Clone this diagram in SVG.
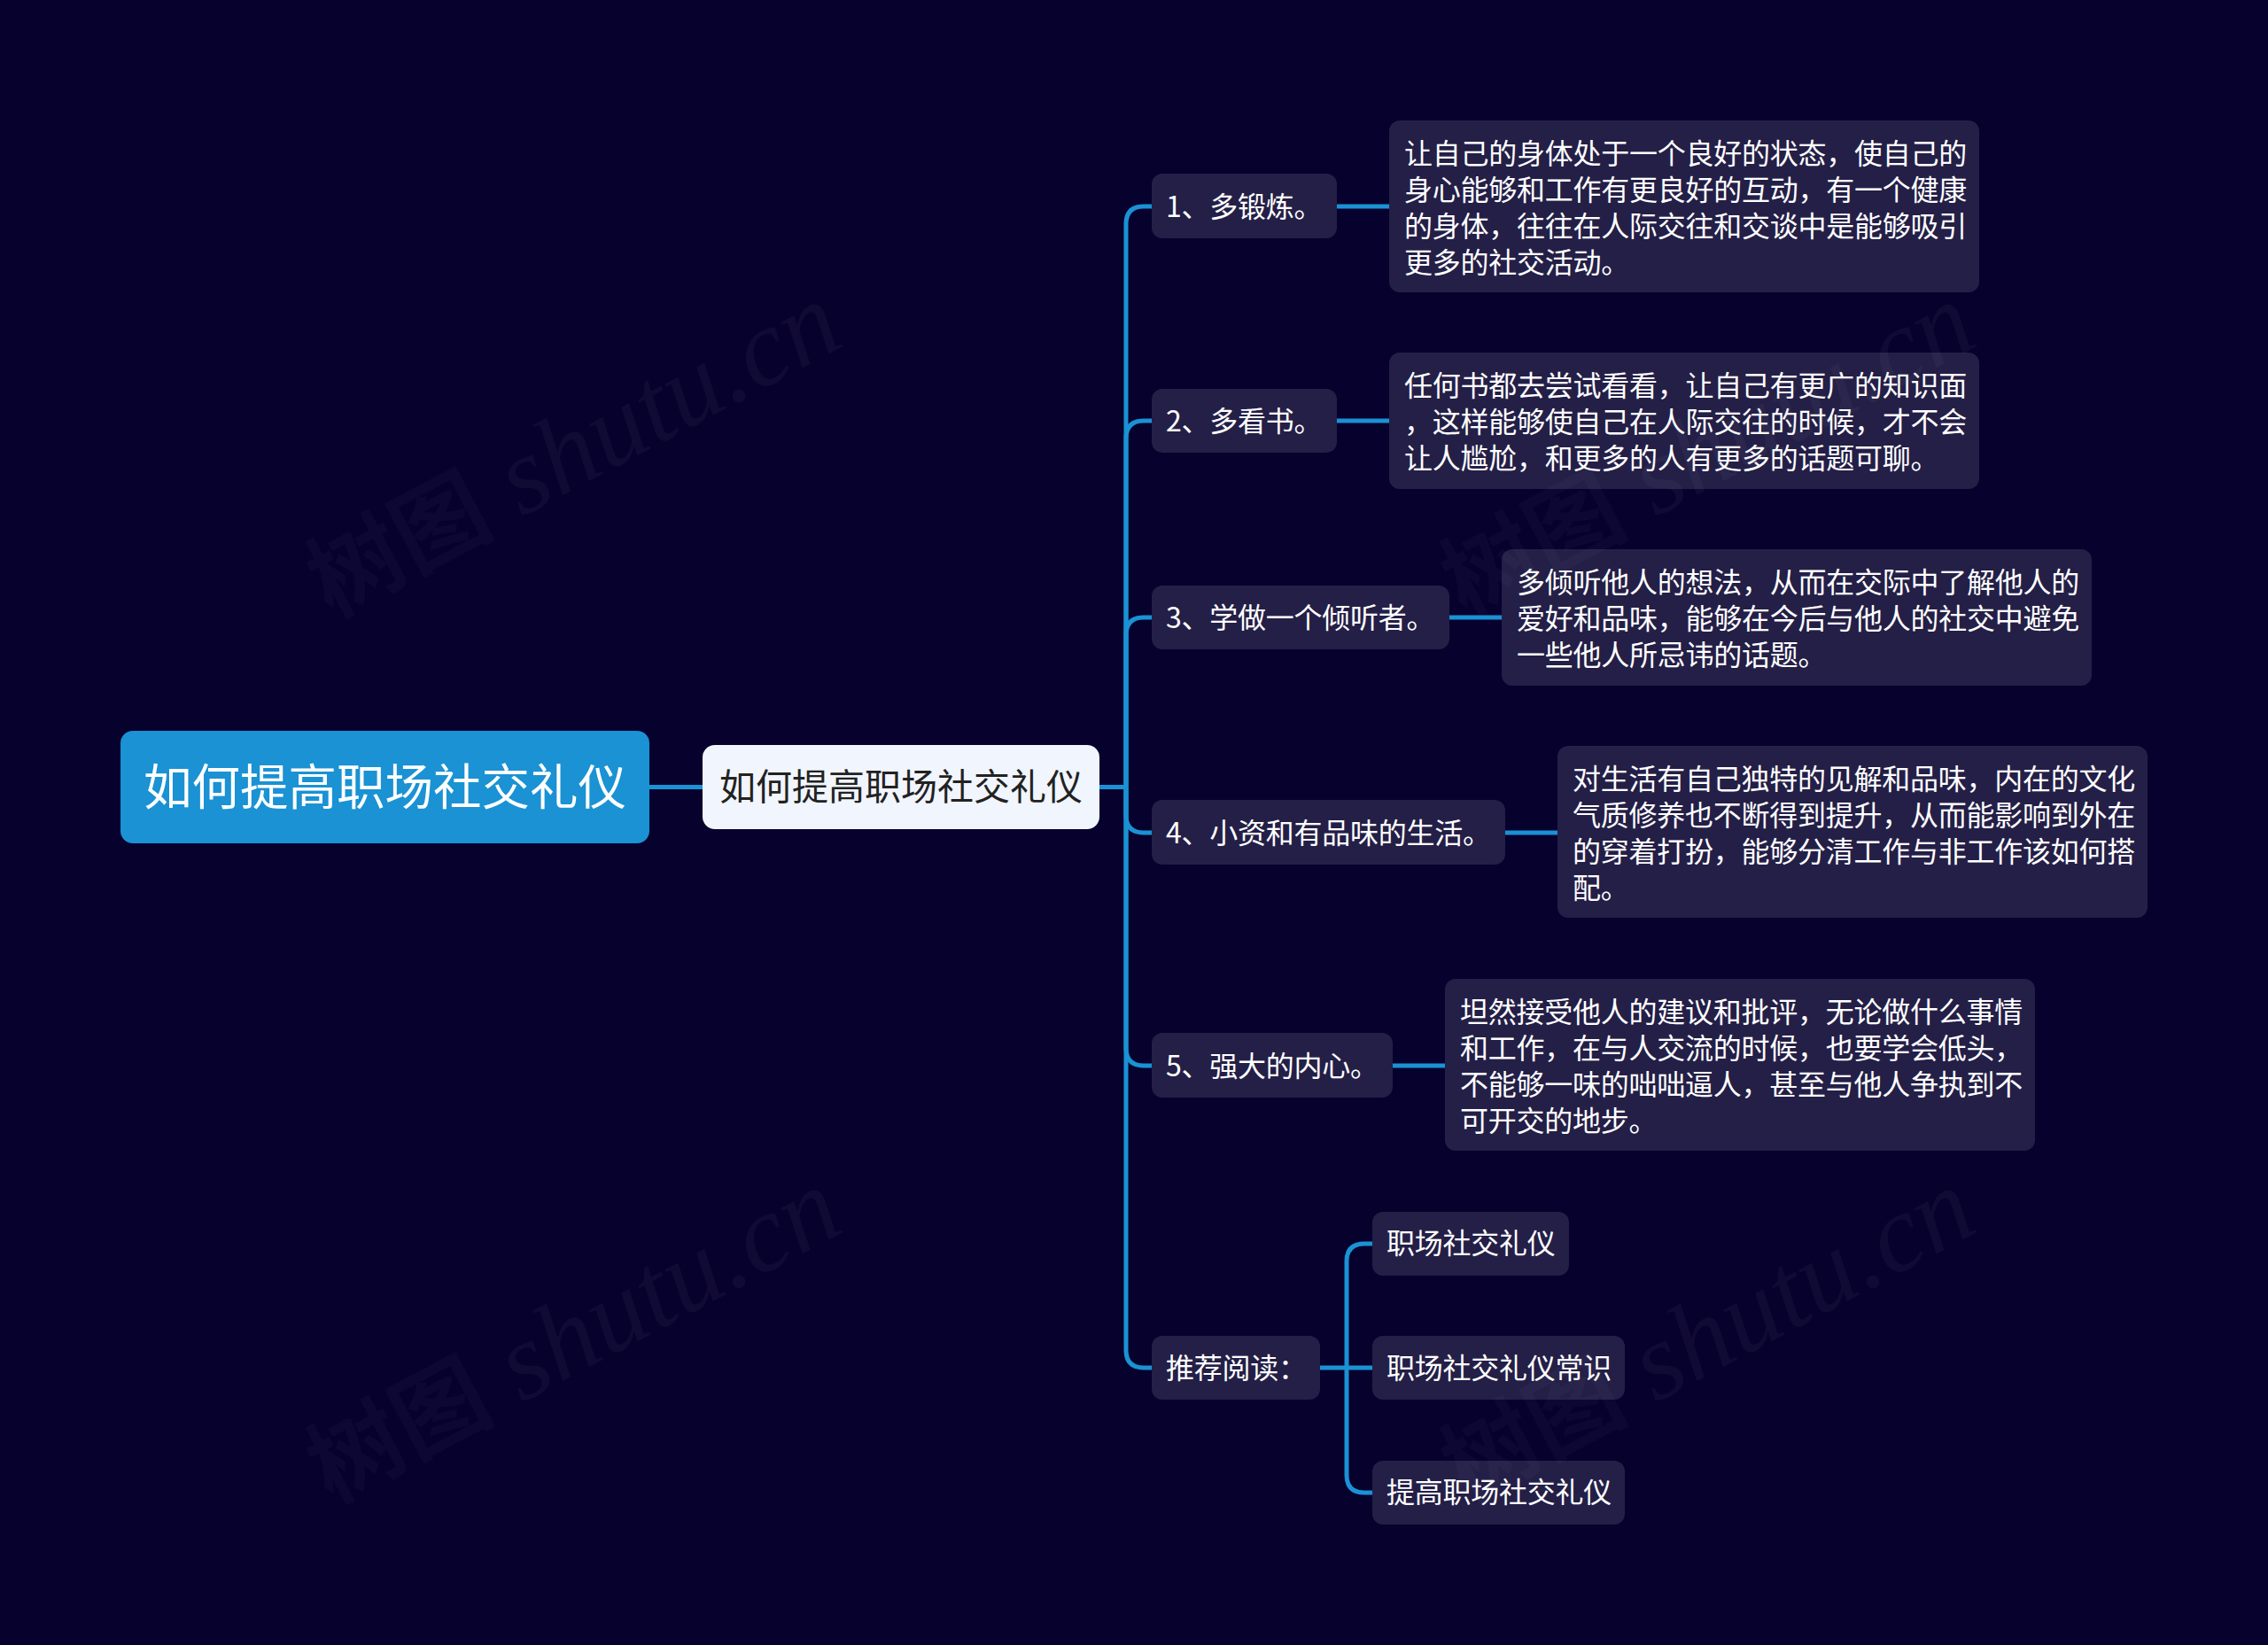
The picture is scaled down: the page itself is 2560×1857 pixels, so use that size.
<svg xmlns="http://www.w3.org/2000/svg" width="2560" height="1857" viewBox="0 0 2560 1857">
<defs>
<style>
text{font-family:"Noto Sans CJK SC","Noto Sans",sans-serif}
.c{fill:none;stroke:#1a92d4;stroke-width:5}
.n{fill:#241f47}
.t{font-size:32px;fill:#fff;letter-spacing:-.25px}
.wm{font-family:"Liberation Serif","Noto Sans CJK SC",serif;font-size:124px;font-style:italic;fill:#8a8a9a;fill-opacity:.07}
.wc{font-size:106px;font-style:normal;font-weight:700;fill-opacity:.05}
</style>
<text id="w" class="wm" transform="rotate(-28)"><tspan class="wc">树图</tspan> shutu.cn</text>
</defs>
<rect width="2560" height="1857" fill="#07012e"/>
<g id="connectors">
<path class="c" d="M733 888.5H793"/>
<path class="c" d="M1241 888.5H1271"/>
<path class="c" d="M1271 888.5V253Q1271 233 1291 233H1300"/>
<path class="c" d="M1271 888.5V495Q1271 475 1291 475H1300"/>
<path class="c" d="M1271 888.5V717Q1271 697 1291 697H1300"/>
<path class="c" d="M1271 888.5V920Q1271 940 1291 940H1300"/>
<path class="c" d="M1271 888.5V1183Q1271 1203 1291 1203H1300"/>
<path class="c" d="M1271 888.5V1524Q1271 1544 1291 1544H1300"/>
<path class="c" d="M1509 233H1568"/>
<path class="c" d="M1509 475H1568"/>
<path class="c" d="M1636 697H1695"/>
<path class="c" d="M1699 940H1758"/>
<path class="c" d="M1572 1203H1631"/>
<path class="c" d="M1490 1544H1549"/>
<path class="c" d="M1520 1544V1424Q1520 1404 1540 1404H1549"/>
<path class="c" d="M1520 1544V1665Q1520 1685 1540 1685H1549"/>
</g>
<g id="root"><rect x="136" y="825" width="597" height="127" rx="14" fill="#1a92d4"/><text x="434.5" y="908" font-size="54.5" fill="#fff" text-anchor="middle">如何提高职场社交礼仪</text></g>
<g id="main"><rect x="793" y="841" width="448" height="95" rx="14" fill="#f1f5fd"/><text x="1017" y="903" font-size="41" fill="#222" text-anchor="middle">如何提高职场社交礼仪</text></g>
<g id="b1"><rect class="n" x="1300" y="196" width="209" height="73" rx="12"/><text class="t" x="1316" y="245">1、多锻炼。</text></g>
<g id="d1"><rect class="n" x="1568" y="136" width="666" height="194" rx="12"/>
<text class="t" x="1585" y="185">让自己的身体处于一个良好的状态，使自己的</text>
<text class="t" x="1585" y="226">身心能够和工作有更良好的互动，有一个健康</text>
<text class="t" x="1585" y="267">的身体，往往在人际交往和交谈中是能够吸引</text>
<text class="t" x="1585" y="308">更多的社交活动。</text></g>
<g id="b2"><rect class="n" x="1300" y="439" width="209" height="72" rx="12"/><text class="t" x="1316" y="487">2、多看书。</text></g>
<g id="d2"><rect class="n" x="1568" y="398" width="666" height="154" rx="12"/>
<text class="t" x="1585" y="447">任何书都去尝试看看，让自己有更广的知识面</text>
<text class="t" x="1585" y="488">，这样能够使自己在人际交往的时候，才不会</text>
<text class="t" x="1585" y="529">让人尴尬，和更多的人有更多的话题可聊。</text></g>
<g id="b3"><rect class="n" x="1300" y="661" width="336" height="72" rx="12"/><text class="t" x="1316" y="709">3、学做一个倾听者。</text></g>
<g id="d3"><rect class="n" x="1695" y="620" width="666" height="154" rx="12"/>
<text class="t" x="1712" y="669">多倾听他人的想法，从而在交际中了解他人的</text>
<text class="t" x="1712" y="710">爱好和品味，能够在今后与他人的社交中避免</text>
<text class="t" x="1712" y="751">一些他人所忌讳的话题。</text></g>
<g id="b4"><rect class="n" x="1300" y="903" width="399" height="73" rx="12"/><text class="t" x="1316" y="952">4、小资和有品味的生活。</text></g>
<g id="d4"><rect class="n" x="1758" y="842" width="666" height="194" rx="12"/>
<text class="t" x="1775" y="891">对生活有自己独特的见解和品味，内在的文化</text>
<text class="t" x="1775" y="932">气质修养也不断得到提升，从而能影响到外在</text>
<text class="t" x="1775" y="973">的穿着打扮，能够分清工作与非工作该如何搭</text>
<text class="t" x="1775" y="1014">配。</text></g>
<g id="b5"><rect class="n" x="1300" y="1166" width="272" height="73" rx="12"/><text class="t" x="1316" y="1215">5、强大的内心。</text></g>
<g id="d5"><rect class="n" x="1631" y="1105" width="666" height="194" rx="12"/>
<text class="t" x="1648" y="1154">坦然接受他人的建议和批评，无论做什么事情</text>
<text class="t" x="1648" y="1195">和工作，在与人交流的时候，也要学会低头，</text>
<text class="t" x="1648" y="1236">不能够一味的咄咄逼人，甚至与他人争执到不</text>
<text class="t" x="1648" y="1277">可开交的地步。</text></g>
<g id="b6"><rect class="n" x="1300" y="1508" width="190" height="72" rx="12"/><text class="t" x="1316" y="1556">推荐阅读：</text></g>
<g id="r1"><rect class="n" x="1549" y="1368" width="222" height="72" rx="12"/><text class="t" x="1565" y="1415">职场社交礼仪</text></g>
<g id="r2"><rect class="n" x="1549" y="1508" width="285" height="72" rx="12"/><text class="t" x="1565" y="1556">职场社交礼仪常识</text></g>
<g id="r3"><rect class="n" x="1549" y="1649" width="285" height="72" rx="12"/><text class="t" x="1565" y="1696">提高职场社交礼仪</text></g>
<g id="watermarks">
<use href="#w" transform="translate(374 698)"/>
<use href="#w" transform="translate(374 1698)"/>
<use href="#w" transform="translate(1654 698)"/>
<use href="#w" transform="translate(1654 1698)"/>
</g>
</svg>
